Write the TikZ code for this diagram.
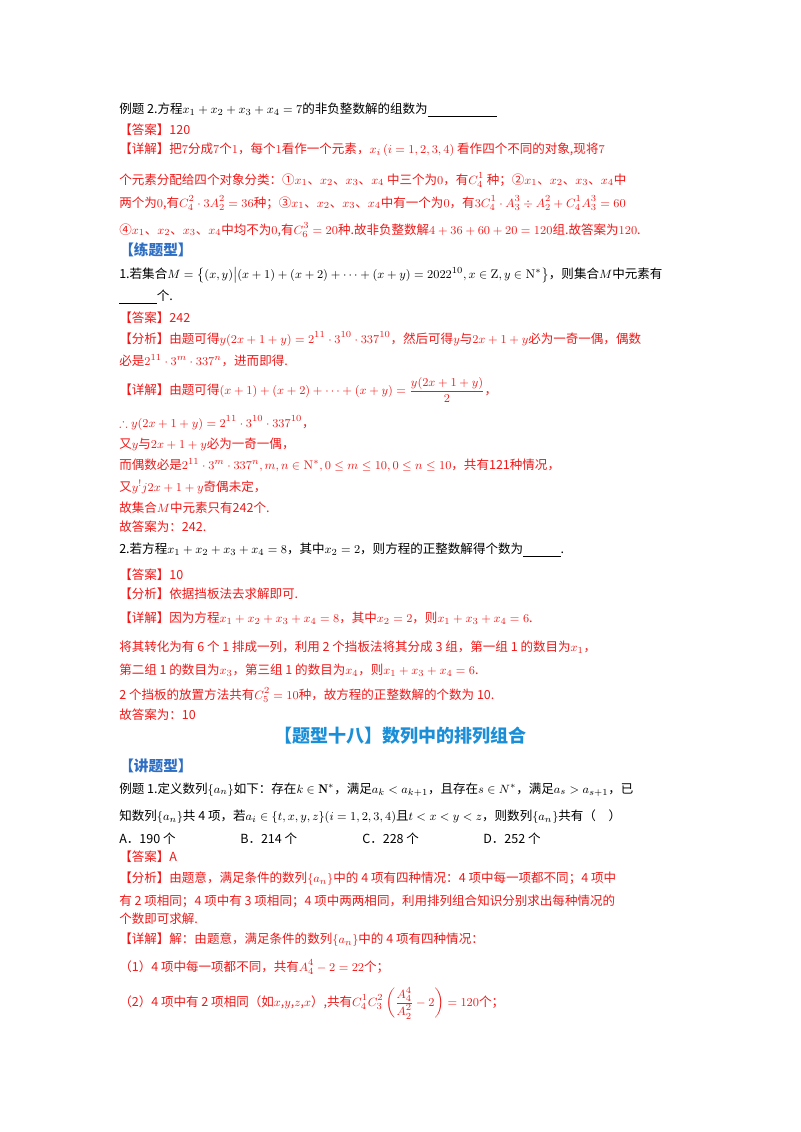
\documentclass[tikz,border=0pt]{standalone}
\usepackage{amsmath,amssymb}
\usepackage{fontspec}
\newfontfamily\cjk{Noto Sans CJK SC}
\definecolor{rd}{HTML}{F01818}
\definecolor{bl}{HTML}{2E6FC4}
\definecolor{tb}{HTML}{1A8FD8}
\begin{document}
\begin{tikzpicture}[x=0.75pt,y=-0.75pt,
  ln/.style={anchor=west,inner sep=0pt,font=\cjk\fontsize{9.4}{11}\selectfont},
  r/.style={ln,text=rd},
  b/.style={ln,text=bl,font=\cjk\bfseries\fontsize{11}{13}\selectfont}]
\useasboundingbox (0,0) rectangle (800,1132);
\node[ln] (l1) at (119,110) {例题 2.方程$x_1+x_2+x_3+x_4=7$的非负整数解的组数为\underline{\hspace{5.5em}}};
\node[r] (l2) at (119,130) {【答案】120};
\node[r] (l3) at (119,150) {【详解】把$7$分成$7$个$1$，每个$1$看作一个元素，$x_i\left(i=1,2,3,4\right)$ 看作四个不同的对象,现将$7$};
\node[r] (l4) at (119,180) {个元素分配给四个对象分类：①$x_1$、$x_2$、$x_3$、$x_4$ 中三个为$0$，有$C_4^1$ 种；②$x_1$、$x_2$、$x_3$、$x_4$中};
\node[r] (l5) at (119,203) {两个为$0$,有$C_4^2\cdot 3A_2^2=36$种；③$x_1$、$x_2$、$x_3$、$x_4$中有一个为$0$，有$3C_4^1\cdot A_3^3\div A_2^2+C_4^1A_3^3=60$};
\node[r] (l6) at (119,230) {④$x_1$、$x_2$、$x_3$、$x_4$中均不为$0$,有$C_6^3=20$种.故非负整数解$4+36+60+20=120$组.故答案为$120$.};
\node[b] (l7) at (119,250) {【练题型】};
\node[ln] (l8) at (119,275) {1.若集合$M=\left\{(x,y)\middle|(x+1)+(x+2)+\cdots+(x+y)=2022^{10},x\in\mathrm{Z},y\in\mathrm{N}^*\right\}$，则集合$M$中元素有};
\node[ln] (l9) at (119,297) {\underline{\hspace{3em}}个.};
\node[r] (l10) at (119,318) {【答案】242};
\node[r] (l11) at (119,339) {【分析】由题可得$y(2x+1+y)=2^{11}\cdot3^{10}\cdot337^{10}$，然后可得$y$与$2x+1+y$必为一奇一偶，偶数};
\node[r] (l12) at (119,361) {必是$2^{11}\cdot3^m\cdot337^n$，进而即得.};
\node[r] (l13) at (119,390) {【详解】由题可得$(x+1)+(x+2)+\cdots+(x+y)=\dfrac{y(2x+1+y)}{2}$，};
\node[r] (l14) at (119,423) {$\therefore y(2x+1+y)=2^{11}\cdot3^{10}\cdot337^{10}$，};
\node[r] (l15) at (119,444) {又$y$与$2x+1+y$必为一奇一偶，};
\node[r] (l16) at (119,465) {而偶数必是$2^{11}\cdot3^m\cdot337^n,m,n\in\mathrm{N}^*,0\le m\le10,0\le n\le10$，共有121种情况，};
\node[r] (l17) at (119,487) {又$y^!j2x+1+y$奇偶未定，};
\node[r] (l18) at (119,508) {故集合$M$中元素只有242个.};
\node[r] (l19) at (119,527) {故答案为：242.};
\node[ln] (l20) at (119,550) {2.若方程$x_1+x_2+x_3+x_4=8$，其中$x_2=2$，则方程的正整数解得个数为\underline{\hspace{3em}}.};
\node[r] (l21) at (119,575) {【答案】10};
\node[r] (l22) at (119,594) {【分析】依据挡板法去求解即可.};
\node[r] (l23) at (119,618) {【详解】因为方程$x_1+x_2+x_3+x_4=8$，其中$x_2=2$，则$x_1+x_3+x_4=6$.};
\node[r] (l24) at (119,647) {将其转化为有 6 个 1 排成一列，利用 2 个挡板法将其分成 3 组，第一组 1 的数目为$x_1$，};
\node[r] (l25) at (119,670) {第二组 1 的数目为$x_3$，第三组 1 的数目为$x_4$，则$x_1+x_3+x_4=6$.};
\node[r] (l26) at (119,695) {2 个挡板的放置方法共有$C_5^2=10$种，故方程的正整数解的个数为 10.};
\node[r] (l27) at (119,715) {故答案为：10};
\node[inner sep=0pt,text=tb,font=\cjk\bfseries\fontsize{13.5}{15}\selectfont] (t) at (400,736) {【题型十八】数列中的排列组合};
\node[b] (l28) at (119,766) {【讲题型】};
\node[ln] (l29) at (119,790) {例题 1.定义数列$\{a_n\}$如下：存在$k\in\mathbf{N}^*$，满足$a_k<a_{k+1}$，且存在$s\in N^*$，满足$a_s>a_{s+1}$，已};
\node[ln] (l30) at (119,817) {知数列$\{a_n\}$共 4 项，若$a_i\in\{t,x,y,z\}(i=1,2,3,4)$且$t<x<y<z$，则数列$\{a_n\}$共有（\quad）};
\node[ln] (oA) at (119,839) {A．190 个};
\node[ln] (oB) at (240,839) {B．214 个};
\node[ln] (oC) at (362,839) {C．228 个};
\node[ln] (oD) at (483,839) {D．252 个};
\node[r] (l31) at (119,857) {【答案】A};
\node[r] (l32) at (119,879) {【分析】由题意，满足条件的数列$\{a_n\}$中的 4 项有四种情况：4 项中每一项都不同；4 项中};
\node[r] (l33) at (119,901) {有 2 项相同；4 项中有 3 项相同；4 项中两两相同，利用排列组合知识分别求出每种情况的};
\node[r] (l34) at (119,919) {个数即可求解.};
\node[r] (l35) at (119,940) {【详解】解：由题意，满足条件的数列$\{a_n\}$中的 4 项有四种情况：};
\node[r] (l36) at (119,967) {（1）4 项中每一项都不同，共有$A_4^4-2=22$个；};
\node[r] (l37) at (119,1003) {（2）4 项中有 2 项相同（如$x$,$y$,$z$,$x$）,共有$C_4^1C_3^2\left(\dfrac{A_4^4}{A_2^2}-2\right)=120$个；};
\end{tikzpicture}
\end{document}
